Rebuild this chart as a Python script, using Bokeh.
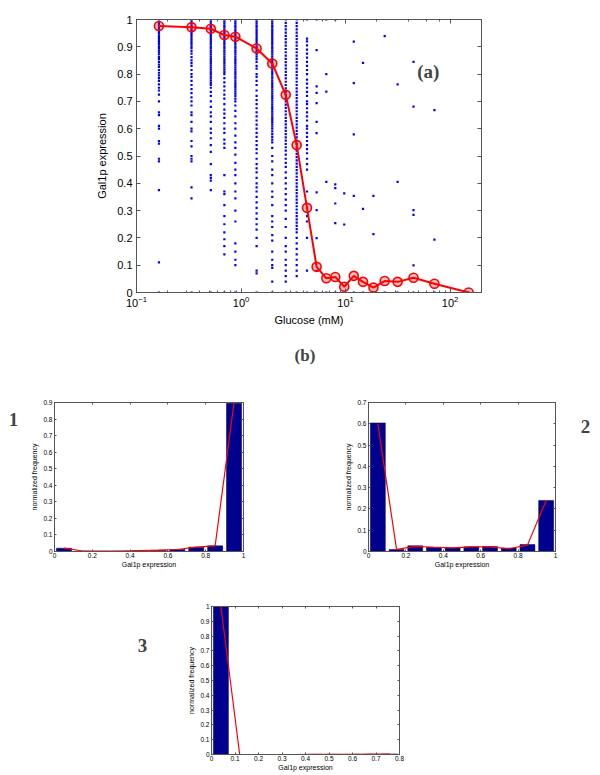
from bokeh.plotting import figure
from bokeh.models import Range1d, FixedTicker, LinearAxis, LogAxis, Label
from bokeh.layouts import column, row
from bokeh.embed import file_html
from bokeh.resources import INLINE

# ---------------- data: panel (a) ----------------
glucose = [0.164, 0.336, 0.514, 0.693, 0.883, 1.41, 1.99, 2.68, 3.41, 4.28, 5.29,
           6.55, 7.98, 9.72, 12.0, 14.7, 18.5, 23.7, 31.5, 44.7, 70.9, 150.7]
mean_expr = [0.976, 0.972, 0.966, 0.943, 0.937, 0.894, 0.839, 0.724, 0.540, 0.310, 0.094,
             0.052, 0.057, 0.021, 0.061, 0.039, 0.018, 0.042, 0.039, 0.054, 0.032, 0.0]
cell_expr = [
    [1.0, .99, .985, .978, .97, .963, .955, .948, .94, .932, .925, .917, .91, .902, .895, .887, .88, .872,
     .862, .855, .845, .835, .826, .815, .805, .795, .785, .775, .762, .75, .74, .725, .70, .66, .65, .61,
     .60, .555, .545, .49, .48, .375, .11, 0],
    [1.0, .992, .985, .977, .97, .962, .955, .947, .94, .932, .925, .917, .91, .902, .895, .885, .875, .862,
     .85, .84, .83, .815, .80, .79, .775, .76, .745, .73, .715, .70, .685, .66, .65, .625, .60, .59, .555,
     .535, .50, .49, .48, .385, .345, 0],
    [1.0, .992, .985, .977, .97, .962, .955, .947, .94, .932, .925, .917, .91, .902, .895, .887, .88, .872,
     .864, .856, .848, .84, .832, .824, .816, .808, .80, .792, .784, .776, .768, .76, .75, .735, .72, .70,
     .68, .66, .645, .625, .60, .585, .565, .54, .515, .47, .43, .42, .41, .375, 0],
    [1.0, .992, .985, .977, .97, .962, .955, .947, .94, .932, .925, .917, .91, .902, .895, .887, .88, .872,
     .864, .856, .848, .84, .832, .824, .816, .808, .80, .785, .77, .755, .74, .725, .71, .69, .67, .655,
     .64, .62, .60, .585, .56, .545, .53, .43, .37, .36, .32, .28, .25, .22, .195, .17, .14, 0],
    [1.0, .992, .985, .977, .97, .962, .955, .947, .94, .932, .925, .917, .91, .902, .895, .887, .88, .872,
     .864, .856, .848, .84, .832, .824, .816, .808, .80, .792, .784, .776, .768, .76, .752, .744, .736,
     .728, .72, .71, .70, .685, .665, .645, .62, .60, .575, .55, .53, .505, .475, .45, .43, .40, .37, .345,
     .30, .26, .18, .15, .12, .10, 0],
    [1.0, .992, .985, .977, .97, .962, .955, .947, .94, .932, .925, .917, .91, .902, .895, .887, .88, .872,
     .864, .855, .845, .83, .82, .80, .79, .775, .76, .74, .72, .705, .69, .675, .66, .645, .63, .615, .60,
     .585, .57, .555, .54, .525, .51, .49, .47, .455, .44, .42, .40, .385, .37, .35, .33, .31, .29, .27,
     .25, .23, .20, .17, .08, .07, 0],
    [1.0, .992, .985, .977, .97, .962, .955, .947, .94, .932, .925, .917, .91, .902, .895, .887, .88, .872,
     .864, .856, .848, .84, .832, .824, .816, .808, .80, .792, .784, .776, .768, .76, .752, .744, .736,
     .728, .72, .712, .704, .696, .688, .68, .672, .664, .656, .648, .64, .632, .624, .616, .608, .60, .59,
     .58, .57, .56, .55, .53, .50, .48, .45, .43, .40, .37, .35, .32, .28, .26, .24, .21, .19, .15, .12,
     .10, .09, .04, 0],
    [1.0, .988, .976, .964, .952, .94, .928, .916, .904, .892, .88, .868, .856, .844, .832, .82, .808, .796,
     .784, .772, .76, .748, .736, .724, .712, .70, .688, .676, .664, .652, .64, .628, .616, .604, .592,
     .58, .568, .556, .544, .532, .52, .505, .49, .475, .46, .44, .42, .40, .38, .36, .34, .32, .30, .27,
     .24, .20, .17, .15, .12, .10, .08, .06, .04, 0],
    [1.0, .988, .976, .964, .952, .94, .928, .916, .904, .892, .88, .868, .856, .844, .832, .82, .808, .796,
     .784, .772, .76, .748, .736, .724, .712, .70, .688, .676, .664, .652, .64, .628, .616, .604, .592,
     .58, .568, .556, .544, .532, .52, .508, .496, .484, .472, .46, .448, .436, .424, .412, .40, .388,
     .376, .364, .352, .34, .328, .316, .304, .292, .28, .268, .256, .244, .232, .22, .20, .18, .16, .14,
     .12, .10, .08, .06, 0],
    [1.0, .93, .92, .905, .89, .875, .86, .845, .83, .815, .80, .78, .765, .75, .735, .72, .70, .69, .675,
     .66, .645, .63, .61, .60, .585, .57, .555, .54, .525, .51, .49, .47, .45, .37, .31, .28, .26, .20,
     .08, 0],
    [1.0, .888, .755, .731, .694, .625, .584, .367, .302, .199, .079, 0],
    [1.0, .80, .736, .405, 0],
    [1.0, .396, .382, .326, .254, 0],
    [.363, .249, 0],
    [.919, .767, .579, .354, 0],
    [.841, .306, 0],
    [.354, .214, 0],
    [.939, 0],
    [.762, .405, 0],
    [.845, .681, .302, .284, .099, 0],
    [.668, .194, 0],
    [0],
]
y_ticks_a = [0, .1, .2, .3, .4, .5, .6, .7, .8, .9, 1]

# ---------------- data: panel (b) histograms ----------------
bins_1 = [.05, .15, .25, .35, .45, .55, .65, .75, .85, .95]
freq_1 = [.02, .002, .001, .002, .005, .007, .012, .026, .034, .895]
fit_1 = [.02, .003, .002, .003, .006, .008, .012, .026, .034, .9]

bins_2 = [.05, .15, .25, .35, .45, .55, .65, .75, .85, .95]
freq_2 = [.604, .009, .027, .02, .017, .022, .024, .016, .033, .24]
fit_2 = [.6, .01, .024, .02, .017, .022, .022, .013, .03, .24]

bins_3 = [.04, .12, .20, .28, .36, .44, .52, .60, .68, .76]
freq_3 = [1.0, 0, 0, 0, 0, .001, .001, .001, .001, .004]
fit_3 = [1.0, 0, 0, 0, 0, .001, .001, .001, .002, .003]

FONT = "Liberation Sans"
SERIF = "Liberation Serif"
AX = "#555555"


def style_axis(ax, fs, tick_in=4, minor=False, labels=True, label_fs=None):
    ax.major_tick_in = tick_in
    ax.major_tick_out = 0
    ax.minor_tick_in = tick_in // 2 if minor else 0
    ax.minor_tick_out = 0
    if not minor:
        ax.minor_tick_line_color = None
    else:
        ax.minor_tick_line_color = AX
    ax.axis_line_color = AX
    ax.major_tick_line_color = AX
    ax.major_label_text_font = FONT
    ax.major_label_text_color = "black"
    ax.axis_label_text_font = FONT
    ax.axis_label_text_font_style = "normal"
    ax.axis_label_text_color = "black"
    ax.axis_label_text_font_size = label_fs or fs
    ax.major_label_text_font_size = fs
    if not labels:
        ax.major_label_text_font_size = "2px"
        ax.major_label_text_alpha = 0
        ax.major_label_standoff = 0


# ---------------- panel (a) ----------------
pa = figure(width=600, height=330, x_axis_type="log",
            x_range=Range1d(0.1, 200), y_range=Range1d(0, 1),
            min_border_left=136, min_border_right=119, min_border_top=19, min_border_bottom=38,
            toolbar_location=None, output_backend="svg")
pa.grid.visible = False
pa.outline_line_color = AX
pa.background_fill_color = "white"

xs, ys = [], []
for g, vals in zip(glucose, cell_expr):
    for v in vals:
        xs.append(g)
        ys.append(v)
pa.scatter(xs, ys, marker="square", size=2.2, color="#0000ff", line_width=0)
pa.line(glucose, mean_expr, color="red", line_width=2)
pa.scatter(glucose, mean_expr, marker="circle", size=9, line_color="red", line_width=1.6,
           fill_color="red", fill_alpha=0.25)

pa.xaxis.axis_label = "Glucose (mM)"
pa.yaxis.axis_label = "Gal1p expression"
pa.yaxis.ticker = FixedTicker(ticks=y_ticks_a)
pa.yaxis.major_label_overrides = {0: "0", 1: "1"}
style_axis(pa.xaxis[0], "11px", minor=True, label_fs="11px")
style_axis(pa.yaxis[0], "11px", label_fs="11px")
pa.xaxis.axis_label_standoff = 4
pa.yaxis.axis_label_standoff = 6
pa.xaxis.major_label_standoff = 3
pa.yaxis.major_label_standoff = 4
top_ax = LogAxis()
style_axis(top_ax, "11px", minor=True, labels=False)
pa.add_layout(top_ax, "above")
right_ax = LinearAxis(ticker=FixedTicker(ticks=y_ticks_a))
style_axis(right_ax, "11px", labels=False)
pa.add_layout(right_ax, "right")
pa.add_layout(Label(x=62, y=0.81, text="(a)", text_font=SERIF, text_font_style="bold",
                    text_font_size="19px", text_align="center", text_baseline="middle"))


def text_fig(w, h, txt, x, y_from_top, size):
    p = figure(width=w, height=h, x_range=Range1d(0, w), y_range=Range1d(0, h),
               min_border=0, toolbar_location=None, output_backend="svg")
    p.axis.visible = False
    p.grid.visible = False
    p.outline_line_color = None
    p.add_layout(Label(x=x, y=h - y_from_top, text=txt, text_font=SERIF, text_font_style="bold",
                       text_font_size=size, text_align="center", text_baseline="middle"))
    return p


def hist_fig(w, h, bl, br, bt, bb, xmax, ymax, xt, yt, bins, freq, fit, bw):
    p = figure(width=w, height=h, x_range=Range1d(0, xmax), y_range=Range1d(0, ymax),
               min_border_left=bl, min_border_right=br, min_border_top=bt, min_border_bottom=bb,
               toolbar_location=None, output_backend="svg")
    p.grid.visible = False
    p.outline_line_color = AX
    p.vbar(x=bins, top=freq, width=bw, fill_color="#00008f", line_color="#000050", line_width=0.5)
    p.line(bins, fit, color="red", line_width=1.2)
    p.xaxis.ticker = FixedTicker(ticks=xt)
    p.yaxis.ticker = FixedTicker(ticks=yt)
    p.xaxis.major_label_overrides = {0: "0", 1: "1"}
    p.yaxis.major_label_overrides = {0: "0", 1: "1"}
    p.xaxis.axis_label = "Gal1p expression"
    p.yaxis.axis_label = "normalized frequency"
    style_axis(p.xaxis[0], "6.5px", tick_in=2, label_fs="7px")
    style_axis(p.yaxis[0], "6.5px", tick_in=2, label_fs="7px")
    p.xaxis.major_label_standoff = 1
    p.yaxis.major_label_standoff = 2
    p.xaxis.axis_label_standoff = 0
    p.yaxis.axis_label_standoff = 2
    ta = LinearAxis(ticker=FixedTicker(ticks=xt))
    style_axis(ta, "6.5px", tick_in=2, labels=False)
    p.add_layout(ta, "above")
    ra = LinearAxis(ticker=FixedTicker(ticks=yt))
    style_axis(ra, "6.5px", tick_in=2, labels=False)
    p.add_layout(ra, "right")
    return p


xt_1 = [0, .2, .4, .6, .8, 1]
yt_1 = [0, .1, .2, .3, .4, .5, .6, .7, .8, .9]
yt_2 = [0, .1, .2, .3, .4, .5, .6, .7]
xt_3 = [0, .1, .2, .3, .4, .5, .6, .7, .8]
yt_3 = [0, .1, .2, .3, .4, .5, .6, .7, .8, .9, 1]

b_label = text_fig(600, 50, "(b)", 293, 25, "17px")

t1 = text_fig(24, 200, "1", 13, 23, "19px")
h1 = hist_fig(306, 200, 30, 87, 22, 28, 1, 0.9, xt_1, yt_1, bins_1, freq_1, fit_1, 0.08)
h2 = hist_fig(240, 200, 38, 15, 22, 29, 1, 0.7, xt_1, yt_2, bins_2, freq_2, fit_2, 0.08)
t2 = text_fig(30, 200, "2", 15, 32, "19px")

t3 = text_fig(180, 195, "3", 142, 52, "19px")
h3 = hist_fig(240, 195, 31, 21, 26, 21, 0.8, 1.0, xt_3, yt_3, bins_3, freq_3, fit_3, 0.064)

layout = column(pa, b_label, row(t1, h1, h2, t2), row(t3, h3))

open("out.html", "w").write(file_html(layout, INLINE))
